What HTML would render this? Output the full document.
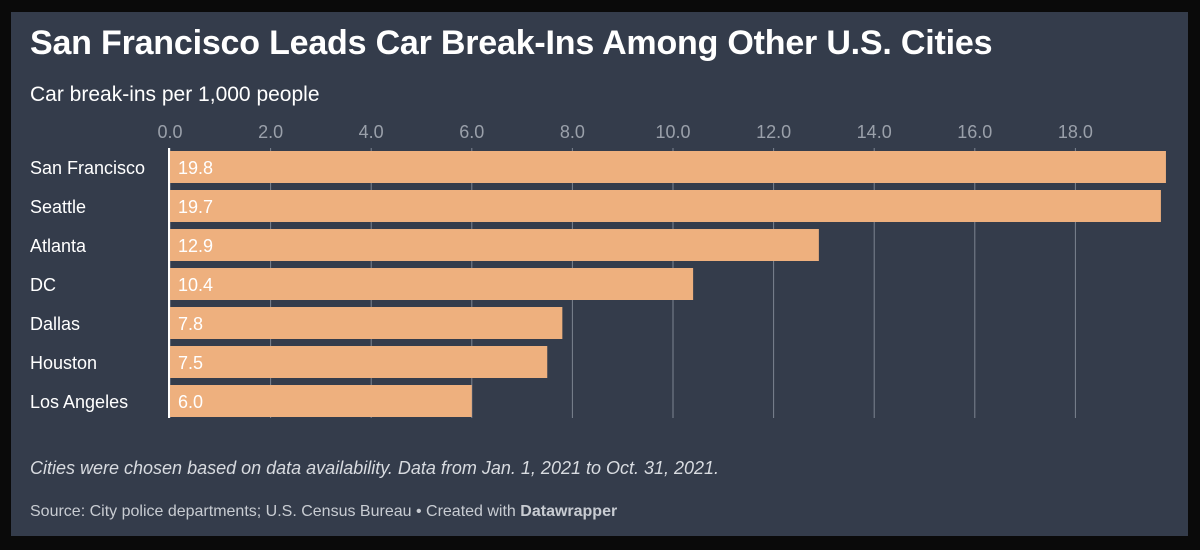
<!DOCTYPE html>
<html><head><meta charset="utf-8"><style>
body{margin:0;width:1200px;height:550px;background:#0a0a0a;font-family:"Liberation Sans",sans-serif;overflow:hidden}
#panel{position:absolute;left:11px;top:12px;width:1177px;height:524px;background:#343c4b}
.t{position:absolute;color:#fff;white-space:nowrap}
</style></head><body>
<div id="panel"></div>
<div class="t" style="left:30px;top:24px;font-size:34px;font-weight:bold;letter-spacing:-0.2px">San Francisco Leads Car Break-Ins Among Other U.S. Cities</div>
<div class="t" style="left:30px;top:83px;font-size:21px">Car break-ins per 1,000 people</div>
<svg id="chart" width="1200" height="550" style="position:absolute;left:0;top:0"></svg>
<div class="t" style="left:30px;top:458px;font-size:18px;font-style:italic;color:#d8dbe0">Cities were chosen based on data availability. Data from Jan. 1, 2021 to Oct. 31, 2021.</div>
<div class="t" style="left:30px;top:503px;font-size:16px;color:#c8ccd2">Source: City police departments; U.S. Census Bureau • Created with <b>Datawrapper</b></div>
<script>
const categories=["San Francisco","Seattle","Atlanta","DC","Dallas","Houston","Los Angeles"];
const values=[19.8,19.7,12.9,10.4,7.8,7.5,6.0];
const ticks=[0,2,4,6,8,10,12,14,16,18];
const svg=document.getElementById('chart');
const NS="http://www.w3.org/2000/svg";
const x=v=>170+v*50.3;
const yTop=i=>151+i*39;
function mk(t,a){const e=document.createElementNS(NS,t);for(const k in a)e.setAttribute(k,a[k]);svg.appendChild(e);return e;}
ticks.forEach(t=>{
 const l=mk('line',{x1:x(t),x2:x(t),y1:148,y2:418,stroke:'#7c8390','stroke-width':1});
 
 
 const tx=mk('text',{x:x(t),y:138,'text-anchor':'middle',fill:'#9aa0aa','font-size':18,'font-family':'Liberation Sans, sans-serif'});
 tx.textContent=t.toFixed(1);
 
 
});
categories.forEach((c,i)=>{
 const r=mk('rect',{x:x(0),y:yTop(i),width:x(values[i])-x(0),height:32,fill:'#eeb07e'});
 
 
 const lb=mk('text',{x:30,y:yTop(i)+23,fill:'#fff','font-size':18,'font-family':'Liberation Sans, sans-serif'});
 lb.textContent=c;
 
 
 const v=mk('text',{x:x(0)+8,y:yTop(i)+23,fill:'#fff','font-size':18,'font-family':'Liberation Sans, sans-serif'});
 v.textContent=values[i].toFixed(1);
 
 
});
const b=mk('line',{x1:169,x2:169,y1:148,y2:418,stroke:'#fff','stroke-width':2});


</script>
</body></html>
